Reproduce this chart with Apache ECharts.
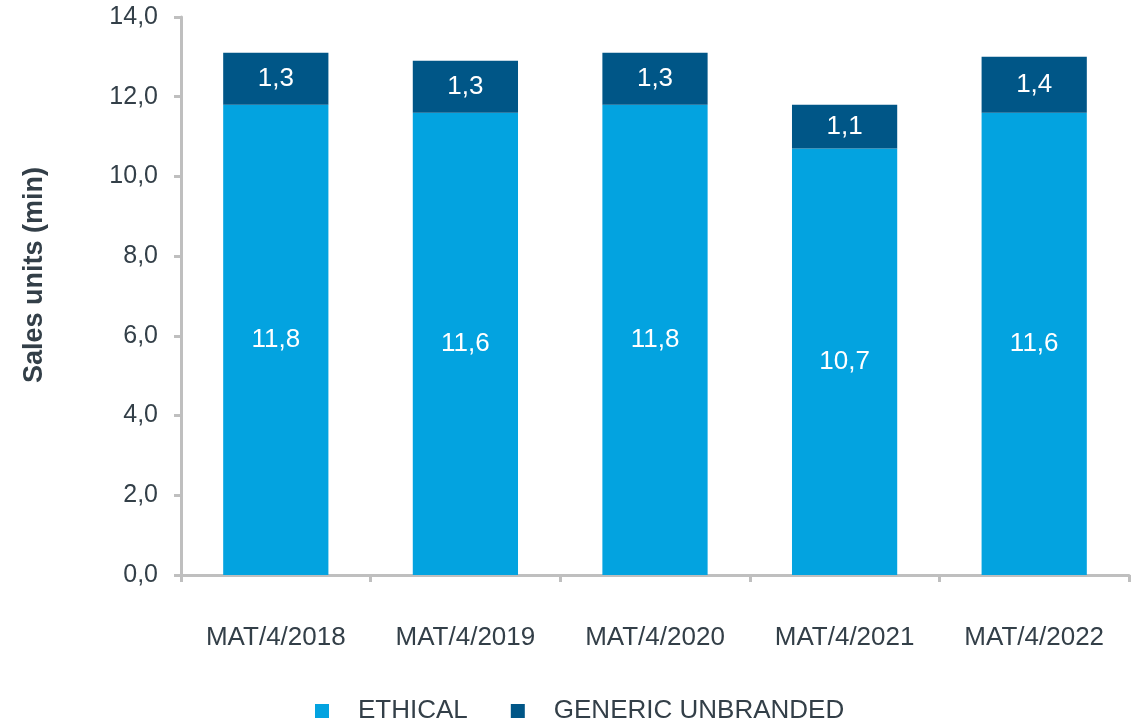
<!DOCTYPE html>
<html>
<head>
<meta charset="utf-8">
<script src="https://cdn.jsdelivr.net/npm/echarts@6/dist/echarts.min.js"></script>
<style>html,body{margin:0;padding:0;background:#fff;}#c{width:1140px;height:725px;}</style>
</head>
<body>
<div id="c"></div>
<script>
const categories = ['MAT/4/2018','MAT/4/2019','MAT/4/2020','MAT/4/2021','MAT/4/2022'];
const ethical = [11.8, 11.6, 11.8, 10.7, 11.6];
const generic = [1.3, 1.3, 1.3, 1.1, 1.4];
const seriesNames = ['ETHICAL', 'GENERIC UNBRANDED'];
const yAxisName = 'Sales units (min)';

const fmt = v => v.toFixed(1).replace('.', ',');
const textColor = '#333F48';
const font = 'Liberation Sans, Arial, sans-serif';

const chart = echarts.init(document.getElementById('c'));
chart.setOption({
  animation: false,
  grid: { left: 181, right: 11, top: 17, bottom: 150, containLabel: false },
  legend: {
    top: 698,
    left: 315,
    padding: 0,
    itemWidth: 14, itemHeight: 14, itemGap: 43,
    icon: 'rect',
    textStyle: { color: textColor, fontSize: 26, fontFamily: font, padding: [0,0,0,24] },
    data: seriesNames
  },
  xAxis: {
    type: 'category',
    data: categories,
    axisLine: { lineStyle: { color: '#BFBFBF', width: 3 } },
    axisTick: { show: true, length: 7, lineStyle: { color: '#BFBFBF', width: 3 } },
    axisLabel: { color: textColor, fontSize: 26, fontFamily: font, margin: 50 }
  },
  yAxis: {
    type: 'value',
    min: 0, max: 14, interval: 2,
    name: yAxisName,
    nameLocation: 'middle',
    nameGap: 133,
    nameTextStyle: { color: textColor, fontSize: 27, fontWeight: 'bold', fontFamily: font, padding: [0,0,0,42] },
    splitLine: { show: false },
    axisLine: { show: true, lineStyle: { color: '#BFBFBF', width: 3 } },
    axisTick: { show: true, length: 7, lineStyle: { color: '#BFBFBF', width: 3 } },
    axisLabel: { color: textColor, fontSize: 25, fontFamily: font, margin: 23, formatter: v => fmt(v) }
  },
  series: [
    {
      name: seriesNames[0], type: 'bar', stack: 'total', data: ethical,
      barWidth: '55.5%',
      itemStyle: { color: '#03A3E0' },
      label: { show: true, position: 'inside', color: '#fff', fontSize: 26, fontFamily: font, formatter: p => fmt(p.value) }
    },
    {
      name: seriesNames[1], type: 'bar', stack: 'total', data: generic,
      barWidth: '55.5%',
      itemStyle: { color: '#005687' },
      label: { show: true, position: 'inside', color: '#fff', fontSize: 26, fontFamily: font, formatter: p => fmt(p.value) }
    }
  ]
});
</script>
</body>
</html>
